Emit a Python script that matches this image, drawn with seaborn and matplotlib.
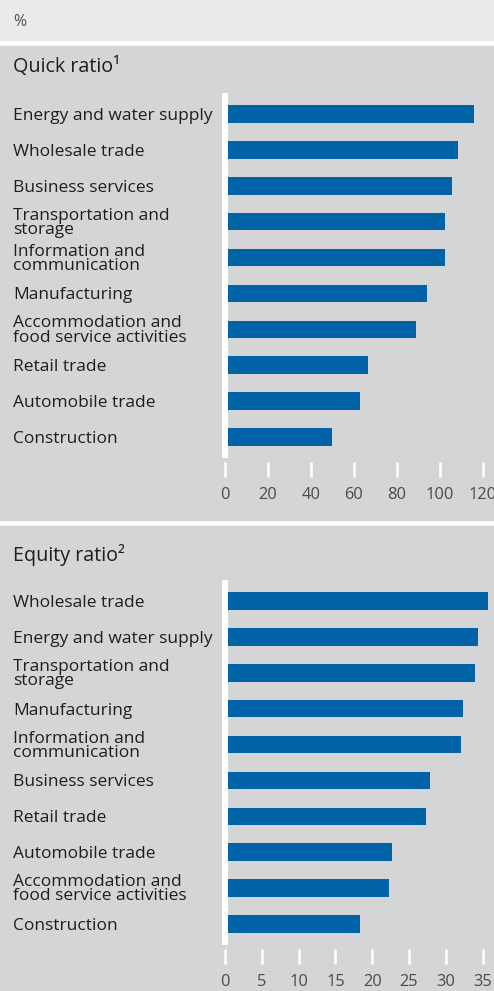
import matplotlib
matplotlib.use("Agg")
import matplotlib.pyplot as plt
from matplotlib.patches import Rectangle
import seaborn as sns
import pandas as pd

# ---------------- data ----------------
quick_categories = [
    "Energy and water supply",
    "Wholesale trade",
    "Business services",
    "Transportation and\nstorage",
    "Information and\ncommunication",
    "Manufacturing",
    "Accommodation and\nfood service activities",
    "Retail trade",
    "Automobile trade",
    "Construction",
]
quick_values = [116.0, 108.5, 105.5, 102.3, 102.3, 94.3, 89.0, 66.8, 62.8, 50.0]
quick_ticks = [0, 20, 40, 60, 80, 100, 120]

equity_categories = [
    "Wholesale trade",
    "Energy and water supply",
    "Transportation and\nstorage",
    "Manufacturing",
    "Information and\ncommunication",
    "Business services",
    "Retail trade",
    "Automobile trade",
    "Accommodation and\nfood service activities",
    "Construction",
]
equity_values = [35.7, 34.4, 33.9, 32.4, 32.1, 27.8, 27.3, 22.7, 22.3, 18.3]
equity_ticks = [0, 5, 10, 15, 20, 25, 30, 35]

unit_label = "%"
title_quick = "Quick ratio¹"
title_equity = "Equity ratio²"

# ---------------- style ----------------
sns.set_style("white")
plt.rcParams["font.family"] = ["Open Sans", "DejaVu Sans"]

W, H = 494, 991
BAR = "#0064A6"
PANEL = "#D4D5D7"
STRIP = "#EBEBED"
TXT = "#1E1E1E"
TICKTXT = "#4A4A4A"
PX = 72 / 100  # points per pixel

fig = plt.figure(figsize=(W / 100, H / 100), dpi=100)
fig.patch.set_facecolor("white")


def fy(px):
    return 1 - px / H


def band(y0, y1, color):
    fig.patches.append(Rectangle((0, fy(y1)), 1, (y1 - y0) / H,
                                 transform=fig.transFigure, color=color,
                                 zorder=-5))


band(0, 40, STRIP)
band(46, 520, PANEL)
band(526, 991, PANEL)

fig.text(13 / W, fy(22), unit_label, ha="left", va="center",
         fontsize=11.5, color="#555555")
fig.text(13 / W, fy(67), title_quick, ha="left", va="center",
         fontsize=14.2, color=TXT)
fig.text(13 / W, fy(555), title_equity, ha="left", va="center",
         fontsize=14.2, color=TXT)


def panel(top, bottom, cats, vals, ticks, xmax):
    ax = fig.add_axes([225 / W, fy(bottom), (W - 225) / W, (bottom - top) / H])
    ax.set_facecolor("none")
    df = pd.DataFrame({"category": cats, "value": vals})
    sns.barplot(data=df, x="value", y="category", orient="h", color=BAR,
                saturation=1, width=0.49, linewidth=0, ax=ax)
    ax.set_xlim(0, xmax)
    ax.set_ylim(len(cats) - 0.5, -0.5)
    ax.set_xlabel("")
    ax.set_ylabel("")
    for s in ["top", "right", "bottom"]:
        ax.spines[s].set_visible(False)
    ax.spines["left"].set_color("white")
    ax.spines["left"].set_linewidth(6 * PX)
    ax.spines["bottom"].set_position(("outward", 7 * PX))
    ax.set_xticks(ticks)
    ax.set_xticklabels([str(t) for t in ticks])
    ax.tick_params(axis="x", bottom=True, direction="out", length=15 * PX,
                   width=2.6 * PX, color="white", pad=7.5, labelsize=11.8,
                   labelcolor=TICKTXT)
    ax.tick_params(axis="y", left=False, length=0, pad=212 * PX,
                   labelsize=12.5, labelcolor=TXT)
    for lbl in ax.get_yticklabels():
        lbl.set_ha("left")
        lbl.set_linespacing(0.85)
    return ax


panel(96, 455, quick_categories, quick_values, quick_ticks, (W - 225) / 2.147)
panel(583, 942, equity_categories, equity_values, equity_ticks, (W - 225) / 7.36)

fig.savefig("out.png", dpi=100, facecolor="white")
